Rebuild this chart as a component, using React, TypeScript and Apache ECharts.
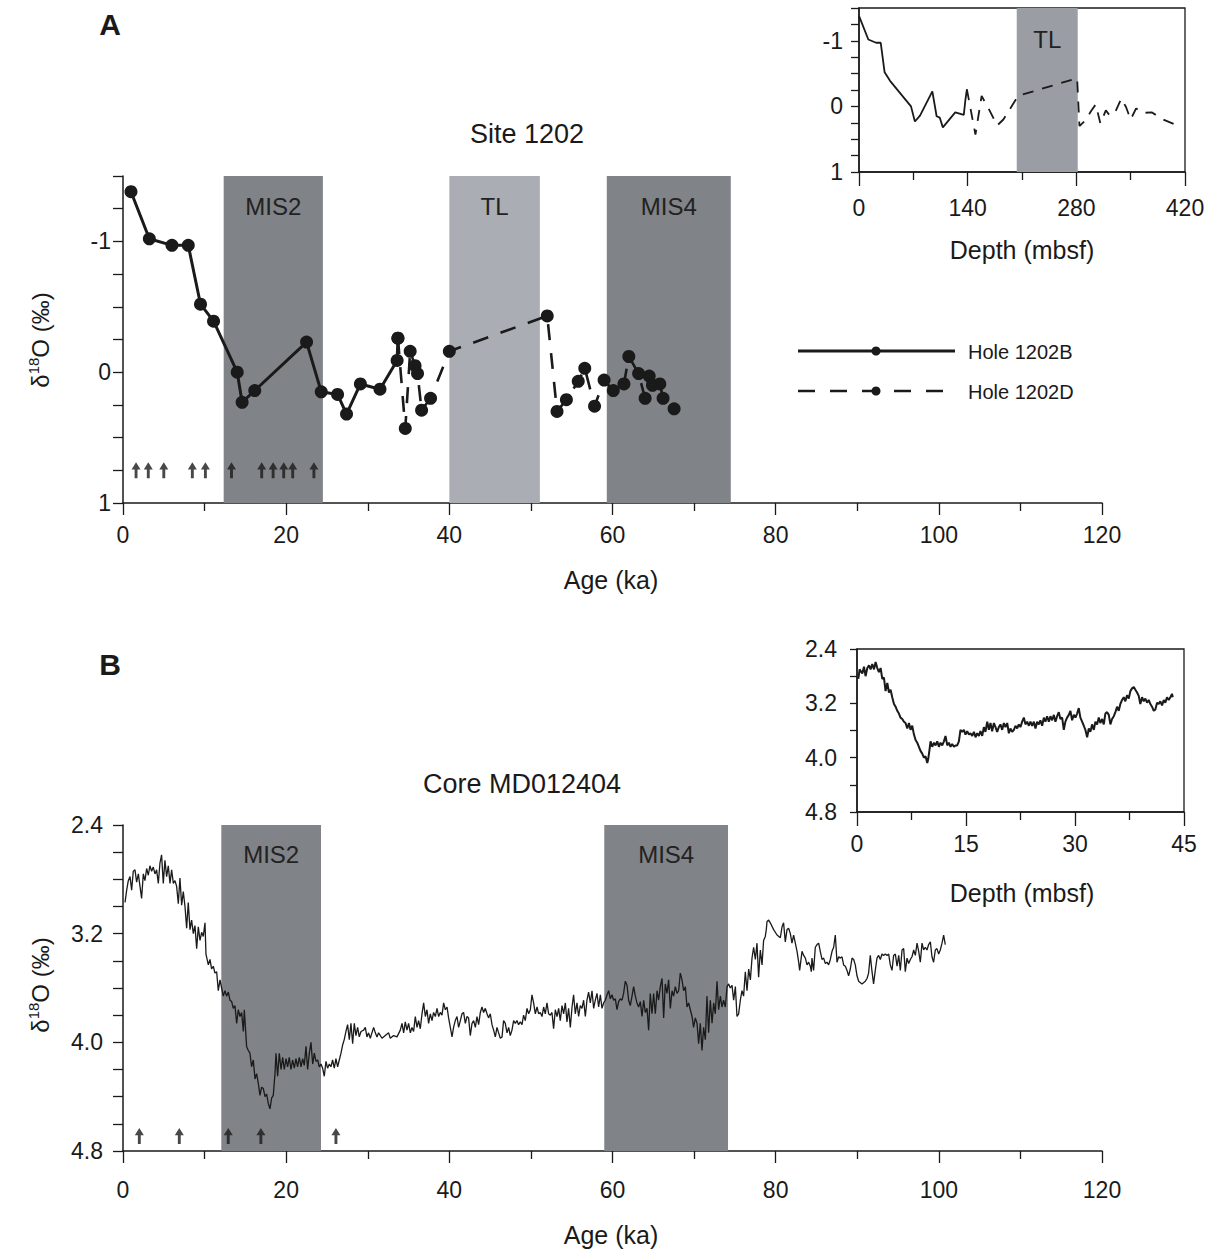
import React, { useEffect, useRef } from 'react';
import * as echarts from 'echarts';

const FONT = "'Liberation Sans', Arial, Helvetica, sans-serif";
const INK = '#1a1a1a';
const DARK_BAND = '#808387';
const LIGHT_BAND = '#aaaeb4';
const INSET_BAND = '#9a9ea4';

// ---- Site 1202: d18O, Hole 1202B (age in ka, d18O in per mil, depth in mbsf)
const hole1202BAge = [0.98, 3.23, 6.0, 8.0, 9.5, 11.1, 14.0, 14.6, 16.15, 22.5, 24.3, 26.3, 27.4, 29.1, 31.5, 33.6, 33.7];
const hole1202BD18O = [-1.38, -1.02, -0.97, -0.97, -0.52, -0.39, 0.0, 0.23, 0.14, -0.23, 0.15, 0.17, 0.32, 0.09, 0.13, -0.09, -0.26];
const hole1202BDepth = [0, 12, 22, 28, 33, 40, 67, 72, 78.6, 94.5, 100, 104, 108, 124, 135, 137, 139];

// ---- Site 1202, Hole 1202D
const hole1202DAge = [33.7, 34.6, 35.2, 35.8, 36.1, 36.6, 37.7, 40.0, 52.0, 53.2, 54.35, 55.8, 56.6, 57.8, 58.97, 60.1, 61.4, 62.0, 63.2, 64.0, 64.5, 64.9, 65.8, 66.2, 67.55];
const hole1202DD18O = [-0.26, 0.43, -0.16, -0.05, 0.01, 0.29, 0.2, -0.16, -0.43, 0.3, 0.21, 0.07, -0.03, 0.26, 0.06, 0.14, 0.09, -0.12, 0.01, 0.2, 0.03, 0.1, 0.09, 0.2, 0.28];
const hole1202DDepth = [139, 150, 158, 163, 166, 178, 186, 205, 281, 284, 292, 299, 305, 311, 318, 323, 330, 338, 344, 350, 357, 365, 377, 392, 408];

// Age control points (ka)
const site1202Dates = [1.6, 3.1, 5.0, 8.5, 10.1, 13.3, 17.0, 18.4, 19.7, 20.8, 23.4];
const coreDates = [2.0, 6.9, 12.9, 16.9, 26.1];

// Shaded intervals [label, start, end, colour] in ka (or mbsf for the depth inset)
const site1202Bands: [string, number, number, string][] = [
  ['MIS2', 12.34, 24.5, DARK_BAND],
  ['TL', 40.0, 51.1, LIGHT_BAND],
  ['MIS4', 59.3, 74.5, DARK_BAND],
];
const site1202DepthBands: [string, number, number, string][] = [['TL', 203.2, 281.8, INSET_BAND]];
const coreBands: [string, number, number, string][] = [
  ['MIS2', 12.05, 24.27, DARK_BAND],
  ['MIS4', 58.99, 74.16, DARK_BAND],
];

// ---- Core MD012404: [age ka, d18O per mil]
const coreMD012404: [number, number][] = [
  [0.25, 2.97], [0.45, 2.88], [0.65, 2.81], [0.86, 2.78], [1.06, 2.88], [1.26, 2.74], [1.47, 2.73], [1.67, 2.82], [1.88, 2.76], [2.08, 2.85],
  [2.28, 2.94], [2.49, 2.76], [2.69, 2.81], [2.9, 2.72], [3.1, 2.77], [3.3, 2.7], [3.51, 2.74], [3.71, 2.71], [3.92, 2.76], [4.12, 2.73],
  [4.33, 2.83], [4.53, 2.68], [4.73, 2.62], [4.94, 2.83], [5.14, 2.66], [5.35, 2.78], [5.55, 2.7], [5.76, 2.83], [5.96, 2.73], [6.17, 2.83],
  [6.37, 2.81], [6.57, 2.85], [6.78, 2.98], [6.98, 2.79], [7.19, 2.99], [7.39, 2.89], [7.6, 3.0], [7.8, 3.16], [8.0, 2.97], [8.21, 3.17],
  [8.41, 3.1], [8.62, 3.2], [8.82, 3.14], [9.03, 3.31], [9.23, 3.15], [9.44, 3.25], [9.64, 3.19], [9.84, 3.22], [10.05, 3.12], [10.17, 3.35],
  [10.46, 3.43], [10.66, 3.39], [10.86, 3.46], [11.07, 3.44], [11.27, 3.49], [11.48, 3.48], [11.68, 3.62], [11.89, 3.54], [12.09, 3.6], [12.29, 3.66],
  [12.5, 3.62], [12.7, 3.66], [12.91, 3.63], [13.11, 3.69], [13.32, 3.7], [13.52, 3.75], [13.72, 3.73], [13.93, 3.86], [14.13, 3.76], [14.34, 3.81],
  [14.54, 3.78], [14.75, 3.92], [14.87, 3.76], [15.15, 4.03], [15.36, 4.06], [15.56, 4.08], [15.76, 4.18], [15.97, 4.13], [16.18, 4.27], [16.38, 4.23],
  [16.58, 4.3], [16.79, 4.39], [16.99, 4.33], [17.2, 4.34], [17.41, 4.4], [17.6, 4.38], [17.81, 4.45], [18.02, 4.49], [18.22, 4.41], [18.42, 4.39],
  [18.63, 4.23], [18.75, 4.08], [18.95, 4.25], [19.16, 4.08], [19.37, 4.2], [19.57, 4.11], [19.77, 4.2], [19.98, 4.12], [20.18, 4.18], [20.38, 4.11],
  [20.59, 4.2], [20.79, 4.13], [21.0, 4.19], [21.2, 4.12], [21.4, 4.18], [21.61, 4.11], [21.82, 4.18], [22.02, 4.12], [22.22, 4.17], [22.43, 4.03],
  [22.63, 4.2], [22.84, 4.08], [23.04, 4.0], [23.25, 4.16], [23.45, 4.08], [23.65, 4.14], [23.86, 4.13], [24.06, 4.18], [24.27, 4.16], [24.47, 4.19],
  [24.67, 4.25], [24.88, 4.14], [25.08, 4.19], [25.29, 4.16], [25.49, 4.18], [25.69, 4.13], [25.9, 4.19], [26.1, 4.12], [26.31, 4.18], [26.51, 4.13],
  [26.72, 4.08], [26.92, 4.02], [27.12, 3.98], [27.33, 3.92], [27.53, 3.87], [27.74, 3.98], [27.94, 3.86], [28.15, 4.01], [28.35, 3.86], [28.55, 3.95],
  [28.76, 3.89], [28.96, 3.96], [29.17, 3.92], [29.5, 3.91], [29.7, 3.89], [29.9, 3.96], [30.1, 3.93], [30.31, 3.97], [30.72, 3.89], [30.93, 3.93],
  [31.13, 3.96], [31.33, 3.93], [31.75, 3.97], [32.15, 3.95], [32.56, 3.93], [32.76, 3.97], [33.17, 3.95], [33.58, 3.96], [33.99, 3.91], [34.2, 3.86],
  [34.4, 3.93], [34.6, 3.85], [34.81, 3.91], [35.01, 3.86], [35.22, 3.93], [35.42, 3.89], [35.62, 3.92], [35.83, 3.81], [36.04, 3.89], [36.23, 3.84],
  [36.44, 3.9], [36.65, 3.79], [36.85, 3.71], [37.06, 3.81], [37.26, 3.76], [37.46, 3.86], [37.67, 3.79], [37.88, 3.84], [38.07, 3.78], [38.28, 3.81],
  [38.49, 3.75], [38.69, 3.81], [38.89, 3.78], [39.1, 3.8], [39.3, 3.71], [39.51, 3.76], [39.72, 3.74], [39.91, 3.82], [40.12, 3.89], [40.33, 3.96],
  [40.52, 3.89], [40.73, 3.84], [40.94, 3.81], [41.14, 3.89], [41.35, 3.84], [41.55, 3.79], [41.75, 3.78], [41.96, 3.86], [42.17, 3.81], [42.36, 3.82],
  [42.57, 3.95], [42.78, 3.86], [42.98, 3.84], [43.19, 3.89], [43.39, 3.81], [43.59, 3.87], [43.8, 3.78], [44.0, 3.74], [44.2, 3.78], [44.41, 3.75],
  [44.62, 3.79], [44.81, 3.82], [45.02, 3.79], [45.23, 3.87], [45.43, 3.91], [45.64, 3.96], [45.84, 3.89], [46.04, 3.93], [46.25, 3.97], [46.46, 3.96],
  [46.65, 3.84], [46.86, 3.86], [47.07, 3.93], [47.27, 3.89], [47.47, 3.95], [47.68, 3.91], [47.88, 3.84], [48.09, 3.86], [48.29, 3.84], [48.49, 3.87],
  [48.7, 3.85], [48.91, 3.87], [49.1, 3.8], [49.31, 3.84], [49.52, 3.75], [49.72, 3.79], [49.93, 3.76], [50.13, 3.65], [50.33, 3.71], [50.54, 3.79],
  [50.75, 3.74], [50.95, 3.79], [51.15, 3.78], [51.36, 3.81], [51.56, 3.74], [51.76, 3.79], [51.97, 3.71], [52.17, 3.79], [52.38, 3.8], [52.58, 3.78],
  [52.78, 3.9], [52.99, 3.76], [53.2, 3.81], [53.4, 3.75], [53.6, 3.84], [53.81, 3.73], [54.01, 3.79], [54.22, 3.71], [54.42, 3.85], [54.62, 3.75],
  [54.83, 3.89], [55.04, 3.74], [55.23, 3.65], [55.44, 3.79], [55.65, 3.71], [55.85, 3.81], [56.05, 3.73], [56.26, 3.75], [56.46, 3.69], [56.67, 3.81],
  [56.87, 3.69], [57.07, 3.63], [57.28, 3.71], [57.49, 3.62], [57.69, 3.75], [57.89, 3.69], [58.1, 3.64], [58.3, 3.74], [58.51, 3.65], [58.71, 3.75],
  [58.91, 3.71], [59.12, 3.69], [59.33, 3.65], [59.53, 3.62], [59.73, 3.68], [59.94, 3.65], [60.14, 3.69], [60.35, 3.68], [60.55, 3.76], [60.75, 3.7],
  [60.96, 3.68], [61.17, 3.69], [61.36, 3.64], [61.57, 3.55], [61.78, 3.58], [61.98, 3.69], [62.18, 3.73], [62.39, 3.66], [62.59, 3.59], [62.8, 3.66],
  [63.0, 3.71], [63.2, 3.74], [63.41, 3.7], [63.62, 3.81], [63.82, 3.69], [64.02, 3.78], [64.23, 3.75], [64.43, 3.91], [64.63, 3.64], [64.84, 3.79],
  [65.04, 3.64], [65.25, 3.79], [65.46, 3.62], [65.65, 3.69], [65.86, 3.59], [66.07, 3.53], [66.27, 3.82], [66.47, 3.57], [66.68, 3.64], [66.88, 3.54],
  [67.09, 3.75], [67.3, 3.62], [67.49, 3.66], [67.7, 3.59], [67.91, 3.64], [68.11, 3.62], [68.31, 3.49], [68.52, 3.54], [68.72, 3.62], [68.93, 3.59],
  [69.13, 3.74], [69.33, 3.71], [69.54, 3.76], [69.75, 3.81], [69.94, 3.89], [70.15, 3.82], [70.36, 3.86], [70.56, 4.01], [70.76, 3.86], [70.97, 4.06],
  [71.17, 3.89], [71.38, 3.98], [71.58, 3.66], [71.78, 3.93], [71.99, 3.69], [72.2, 3.86], [72.4, 3.71], [72.6, 3.79], [72.81, 3.55], [73.01, 3.76],
  [73.22, 3.66], [73.42, 3.74], [73.62, 3.69], [73.83, 3.74], [74.04, 3.59], [74.23, 3.57], [74.44, 3.6], [74.65, 3.58], [74.85, 3.69], [75.06, 3.59],
  [75.26, 3.81], [75.46, 3.79], [75.67, 3.69], [75.87, 3.62], [76.07, 3.66], [76.28, 3.48], [76.49, 3.62], [76.69, 3.46], [76.9, 3.54], [77.1, 3.38],
  [77.3, 3.3], [77.51, 3.39], [77.71, 3.27], [77.91, 3.52], [78.12, 3.32], [78.33, 3.43], [78.52, 3.25], [78.73, 3.22], [78.85, 3.17], [78.94, 3.11],
  [79.14, 3.1], [79.34, 3.12], [79.75, 3.17], [80.17, 3.21], [80.57, 3.23], [80.78, 3.15], [80.97, 3.12], [81.18, 3.26], [81.39, 3.17], [81.59, 3.16],
  [81.8, 3.2], [82.0, 3.27], [82.2, 3.21], [82.41, 3.27], [82.62, 3.33], [82.82, 3.41], [82.94, 3.47], [83.23, 3.33], [83.43, 3.36], [83.64, 3.38],
  [83.84, 3.43], [84.04, 3.41], [84.25, 3.44], [84.37, 3.48], [84.45, 3.38], [84.65, 3.47], [84.86, 3.3], [85.07, 3.28], [85.27, 3.27], [85.47, 3.33],
  [85.68, 3.39], [85.88, 3.38], [86.09, 3.42], [86.29, 3.41], [86.49, 3.43], [86.7, 3.39], [86.91, 3.33], [87.11, 3.3], [87.31, 3.21], [87.52, 3.41],
  [87.72, 3.37], [87.93, 3.38], [88.13, 3.37], [88.33, 3.43], [88.54, 3.44], [88.74, 3.47], [88.94, 3.51], [89.15, 3.46], [89.36, 3.38], [89.56, 3.39],
  [89.76, 3.43], [89.97, 3.51], [90.17, 3.55], [90.58, 3.57], [90.99, 3.55], [91.2, 3.53], [91.39, 3.49], [91.6, 3.36], [91.81, 3.48], [92.0, 3.57],
  [92.21, 3.47], [92.42, 3.38], [92.62, 3.36], [92.83, 3.39], [93.03, 3.35], [93.23, 3.36], [93.44, 3.35], [93.65, 3.36], [93.85, 3.35], [94.05, 3.43],
  [94.26, 3.47], [94.46, 3.36], [94.67, 3.35], [94.88, 3.44], [95.08, 3.36], [95.28, 3.47], [95.49, 3.32], [95.69, 3.31], [95.89, 3.48], [96.1, 3.38],
  [96.3, 3.42], [96.51, 3.39], [96.71, 3.37], [96.92, 3.32], [97.12, 3.36], [97.33, 3.27], [97.53, 3.33], [97.73, 3.41], [97.94, 3.27], [98.14, 3.32],
  [98.34, 3.3], [98.55, 3.32], [98.75, 3.28], [98.96, 3.26], [99.16, 3.37], [99.36, 3.41], [99.57, 3.32], [99.77, 3.31], [99.98, 3.35], [100.18, 3.32],
  [100.39, 3.27], [100.59, 3.21], [100.79, 3.28],
];

// ---- Core MD012404 against depth: [depth mbsf, d18O per mil]
const coreMD012404Depth: [number, number][] = [
  [0.18, 2.84], [0.36, 2.7], [0.73, 2.76], [0.96, 2.66], [1.18, 2.8], [1.42, 2.68], [1.65, 2.64], [1.87, 2.7], [2.1, 2.62], [2.34, 2.7],
  [2.56, 2.59], [2.79, 2.68], [3.02, 2.74], [3.25, 2.68], [3.48, 2.84], [3.71, 2.82], [3.93, 3.02], [4.17, 2.9], [4.4, 3.04], [4.62, 3.0],
  [4.85, 3.11], [5.09, 3.21], [5.31, 3.25], [5.54, 3.31], [5.77, 3.35], [5.99, 3.41], [6.23, 3.43], [6.46, 3.47], [6.68, 3.49], [6.92, 3.57],
  [7.15, 3.49], [7.37, 3.59], [7.6, 3.53], [7.84, 3.66], [8.06, 3.74], [8.29, 3.78], [8.52, 3.84], [8.74, 3.9], [8.98, 3.94], [9.21, 4.0],
  [9.43, 3.98], [9.67, 4.08], [9.8, 4.02], [9.98, 3.88], [10.12, 3.76], [10.35, 3.84], [10.59, 3.78], [10.81, 3.82], [11.04, 3.76], [11.27, 3.84],
  [11.49, 3.78], [11.73, 3.82], [11.96, 3.76], [12.18, 3.68], [12.42, 3.82], [12.65, 3.78], [12.87, 3.84], [13.1, 3.8], [13.34, 3.84], [13.56, 3.82],
  [13.79, 3.82], [14.02, 3.76], [14.24, 3.59], [14.48, 3.62], [14.71, 3.59], [14.93, 3.66], [15.17, 3.61], [15.4, 3.66], [15.62, 3.64], [15.85, 3.68],
  [16.09, 3.62], [16.31, 3.7], [16.54, 3.64], [16.77, 3.68], [16.99, 3.61], [17.23, 3.68], [17.46, 3.55], [17.68, 3.62], [17.92, 3.47], [18.15, 3.59],
  [18.37, 3.49], [18.6, 3.61], [18.84, 3.49], [19.06, 3.55], [19.29, 3.62], [19.52, 3.55], [19.74, 3.51], [19.98, 3.59], [20.21, 3.49], [20.43, 3.55],
  [20.67, 3.49], [20.9, 3.64], [21.12, 3.57], [21.35, 3.62], [21.59, 3.59], [21.81, 3.53], [22.04, 3.57], [22.27, 3.51], [22.49, 3.55], [22.73, 3.47],
  [22.96, 3.41], [23.18, 3.51], [23.42, 3.47], [23.65, 3.53], [23.87, 3.47], [24.1, 3.53], [24.34, 3.47], [24.56, 3.57], [24.79, 3.47], [25.02, 3.51],
  [25.24, 3.45], [25.48, 3.53], [25.71, 3.41], [25.93, 3.47], [26.16, 3.39], [26.4, 3.47], [26.62, 3.39], [26.85, 3.45], [27.09, 3.37], [27.31, 3.47],
  [27.54, 3.39], [27.77, 3.33], [27.99, 3.43], [28.23, 3.41], [28.46, 3.59], [28.68, 3.47], [28.91, 3.41], [29.15, 3.37], [29.37, 3.31], [29.6, 3.45],
  [29.84, 3.37], [30.06, 3.41], [30.29, 3.35], [30.52, 3.27], [30.74, 3.41], [30.98, 3.47], [31.21, 3.53], [31.43, 3.59], [31.67, 3.7], [31.9, 3.57],
  [32.12, 3.62], [32.35, 3.51], [32.59, 3.59], [32.81, 3.47], [33.04, 3.51], [33.27, 3.41], [33.49, 3.49], [33.73, 3.43], [33.96, 3.51], [34.18, 3.35],
  [34.42, 3.33], [34.65, 3.37], [34.87, 3.51], [35.1, 3.43], [35.34, 3.39], [35.56, 3.33], [35.79, 3.25], [36.02, 3.31], [36.24, 3.21], [36.48, 3.15],
  [36.71, 3.11], [36.93, 3.17], [37.16, 3.08], [37.4, 3.13], [37.62, 3.02], [37.85, 2.98], [38.09, 2.96], [38.31, 3.0], [38.54, 3.04], [38.77, 3.09],
  [38.99, 3.21], [39.23, 3.11], [39.46, 3.17], [39.68, 3.13], [39.92, 3.19], [40.15, 3.15], [40.37, 3.21], [40.6, 3.25], [40.84, 3.31], [41.06, 3.29],
  [41.29, 3.19], [41.52, 3.21], [41.74, 3.17], [41.98, 3.23], [42.21, 3.15], [42.43, 3.19], [42.66, 3.11], [42.9, 3.15], [43.12, 3.11], [43.35, 3.06],
  [43.45, 3.11],
];

const zip = (a: number[], b: number[]) => a.map((v, i) => [v, b[i]]);

// Show a label only on every `step`-th unit of the axis
const labelEvery = (step: number, digits: number) => (v: number) => {
  const r = v / step;
  if (Math.abs(r - Math.round(r)) > 1e-6) return '';
  return digits ? v.toFixed(digits) : String(Math.round(v) + 0);
};

const ARROW = 'path://M5,0 L10,9 L6.6,9 L6.6,20 L3.4,20 L3.4,9 L0,9 Z';
const TICK_FONT = 23;

const lineStyle = { color: INK, width: 1.5 };
const tickStyle = { color: INK, width: 1.3 };

function xAxisCfg(gridIndex: number, min: number, max: number, interval: number, tickLen: number, minorLen: number, margin: number) {
  return {
    type: 'value', gridIndex, min, max, interval,
    axisLine: { onZero: false, lineStyle },
    axisTick: { show: true, length: tickLen, lineStyle: tickStyle },
    minorTick: { show: true, splitNumber: 2, length: minorLen, lineStyle: tickStyle },
    axisLabel: { fontSize: TICK_FONT, fontFamily: FONT, color: INK, margin },
    splitLine: { show: false },
    minorSplitLine: { show: false },
  };
}

function yAxisCfg(gridIndex: number, min: number, max: number, interval: number, labelStep: number, digits: number, tickLen: number, margin: number) {
  return {
    type: 'value', gridIndex, min, max, interval, inverse: true,
    axisLine: { show: true, onZero: false, lineStyle },
    axisTick: { show: true, length: tickLen, lineStyle: tickStyle },
    axisLabel: { fontSize: TICK_FONT, fontFamily: FONT, color: INK, margin, formatter: labelEvery(labelStep, digits) },
    splitLine: { show: false },
  };
}

function bandSeries(xi: number, bands: [string, number, number, string][], dist: number, fontSize: number) {
  return {
    type: 'line', xAxisIndex: xi, yAxisIndex: xi, data: [], z: 1, silent: true,
    markArea: {
      silent: true,
      label: { show: true, position: 'insideTop', distance: dist, fontSize, fontFamily: FONT, color: '#222' },
      data: bands.map(([name, a, b, color]) => [
        { name, xAxis: a, itemStyle: { color, opacity: 1 } },
        { xAxis: b },
      ]),
    },
  };
}

function yLabel(x: number, y: number) {
  return {
    type: 'text', x, y, rotation: Math.PI / 2,
    style: {
      text: '{a|δ}{s|18}{a|O (‰)}',
      align: 'center', verticalAlign: 'middle',
      rich: {
        a: { fontSize: 24, fontFamily: FONT, fill: INK, lineHeight: 28 },
        s: { fontSize: 15, fontFamily: FONT, fill: INK, lineHeight: 28, verticalAlign: 'top', padding: [0, 0, 10, 0] },
      },
    },
  };
}

function centered(text: string, x: number, y: number, fontSize: number, bold = false) {
  return {
    type: 'text', x, y,
    style: { text, fontSize, fontFamily: FONT, fontWeight: bold ? 'bold' : 'normal', fill: INK, align: 'center', verticalAlign: 'middle' },
  };
}

export default function App() {
  const ref = useRef<HTMLDivElement>(null);

  useEffect(() => {
    if (!ref.current) return;
    const chart = echarts.init(ref.current, undefined, { renderer: 'svg' });

    const option = {
      animation: false,
      backgroundColor: '#ffffff',
      grid: [
        { left: 123, top: 176, width: 979, height: 327 },
        { left: 859, top: 8, width: 326, height: 164, show: true, borderColor: INK, borderWidth: 1.3, backgroundColor: 'transparent' },
        { left: 123, top: 825, width: 979, height: 326 },
        { left: 857, top: 649, width: 327, height: 163, show: true, borderColor: INK, borderWidth: 1.3, backgroundColor: '#ffffff' },
      ],
      xAxis: [
        xAxisCfg(0, 0, 120, 20, 12, 8, 20),
        xAxisCfg(1, 0, 420, 140, 14, 8, 24),
        xAxisCfg(2, 0, 120, 20, 12, 8, 27),
        xAxisCfg(3, 0, 45, 15, 14, 8, 20),
      ],
      yAxis: [
        yAxisCfg(0, -1.5, 1, 0.25, 1, 0, 10, 12),
        yAxisCfg(1, -1.5, 1, 0.25, 1, 0, 8, 16),
        yAxisCfg(2, 2.4, 4.8, 0.2, 0.8, 1, 10, 20),
        yAxisCfg(3, 2.4, 4.8, 0.4, 0.8, 1, 7, 20),
      ],
      graphic: [
        centered('A', 110, 24, 30, true),
        centered('B', 110, 664, 30, true),
        centered('Site 1202', 527, 134, 27),
        centered('Core MD012404', 522, 784, 27),
        centered('Age (ka)', 611, 580, 25),
        centered('Age (ka)', 611, 1235, 25),
        centered('Depth (mbsf)', 1022, 250, 25),
        centered('Depth (mbsf)', 1022, 893, 25),
        yLabel(40, 340),
        yLabel(40, 985),
        // legend
        { type: 'line', shape: { x1: 798, y1: 351, x2: 955, y2: 351 }, style: { stroke: INK, lineWidth: 3 } },
        { type: 'circle', shape: { cx: 876, cy: 351, r: 4.5 }, style: { fill: INK } },
        { type: 'text', x: 968, y: 352, style: { text: 'Hole 1202B', fontSize: 20, fontFamily: FONT, fill: INK, verticalAlign: 'middle' } },
        { type: 'line', shape: { x1: 798, y1: 391, x2: 955, y2: 391 }, style: { stroke: INK, lineWidth: 2.4, lineDash: [17, 15] } },
        { type: 'circle', shape: { cx: 876, cy: 391, r: 4.5 }, style: { fill: INK } },
        { type: 'text', x: 968, y: 392, style: { text: 'Hole 1202D', fontSize: 20, fontFamily: FONT, fill: INK, verticalAlign: 'middle' } },
      ],
      series: [
        bandSeries(0, site1202Bands, 18, 24),
        {
          name: 'Hole 1202B', type: 'line', xAxisIndex: 0, yAxisIndex: 0, z: 5,
          data: zip(hole1202BAge, hole1202BD18O),
          symbol: 'circle', symbolSize: 13, showAllSymbol: true,
          lineStyle: { color: INK, width: 3 }, itemStyle: { color: INK },
        },
        {
          name: 'Hole 1202D', type: 'line', xAxisIndex: 0, yAxisIndex: 0, z: 5,
          data: zip(hole1202DAge, hole1202DD18O),
          symbol: 'circle', symbolSize: 13, showAllSymbol: true,
          lineStyle: { color: INK, width: 2.6, type: [16, 13] }, itemStyle: { color: INK },
        },
        {
          type: 'scatter', xAxisIndex: 0, yAxisIndex: 0, z: 6,
          data: site1202Dates.map((a) => [a, 0.75]),
          symbol: ARROW, symbolSize: [9, 16], itemStyle: { color: INK },
        },

        bandSeries(1, site1202DepthBands, 19, 24),
        {
          type: 'line', xAxisIndex: 1, yAxisIndex: 1, z: 5,
          data: zip(hole1202BDepth, hole1202BD18O),
          symbol: 'none', lineStyle: { color: INK, width: 1.8 },
        },
        {
          type: 'line', xAxisIndex: 1, yAxisIndex: 1, z: 5,
          data: zip(hole1202DDepth, hole1202DD18O),
          symbol: 'none', lineStyle: { color: INK, width: 1.8, type: [11, 9] },
        },

        bandSeries(2, coreBands, 17, 24),
        {
          type: 'line', xAxisIndex: 2, yAxisIndex: 2, z: 5,
          data: coreMD012404,
          symbol: 'none', lineStyle: { color: INK, width: 1.3 },
        },
        {
          type: 'scatter', xAxisIndex: 2, yAxisIndex: 2, z: 6,
          data: coreDates.map((a) => [a, 4.69]),
          symbol: ARROW, symbolSize: [9, 16], itemStyle: { color: INK },
        },

        {
          type: 'line', xAxisIndex: 3, yAxisIndex: 3, z: 5,
          data: coreMD012404Depth,
          symbol: 'none', lineStyle: { color: INK, width: 2 },
        },
      ],
    };

    chart.setOption(option as any);
    return () => chart.dispose();
  }, []);

  return (
    <div
      ref={ref}
      style={{ position: 'fixed', left: 0, top: 0, width: 1217, height: 1252, background: '#fff' }}
    />
  );
}
